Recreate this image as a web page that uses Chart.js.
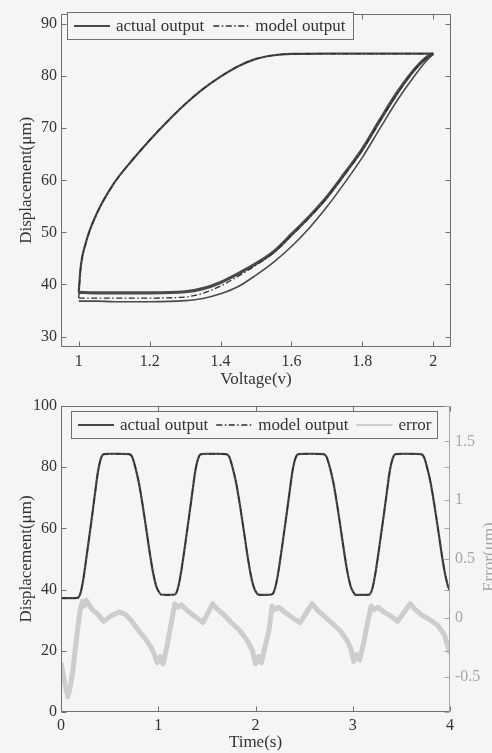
<!DOCTYPE html>
<html>
<head>
<meta charset="utf-8">
<title>Actual vs model output</title>
<script src="https://cdn.jsdelivr.net/npm/chart.js@4.4.1/dist/chart.umd.min.js"></script>
<style>
  html, body { margin: 0; padding: 0; background: #f5f5f5; overflow: hidden; width: 492px; height: 753px; }
  canvas { display: block; }
</style>
</head>
<body>
<canvas id="loop-chart" width="500" height="390"></canvas>
<canvas id="time-chart" width="500" height="363"></canvas>
<script>
'use strict';

// ── Data: hysteresis loop (top panel) ──────────────────────────────────────
// Ascending voltage branch (lower side of the loop)
const ASC_V      = [1.000, 1.050, 1.100, 1.200, 1.300, 1.350, 1.400, 1.450, 1.500, 1.550, 1.600, 1.650, 1.700, 1.750, 1.800, 1.850, 1.900, 1.950, 1.980, 2.000];
const ASC_ACTUAL = [38.5, 38.4, 38.4, 38.4, 38.6, 39.2, 40.4, 42.1, 44.0, 46.3, 49.6, 53.0, 56.8, 61.3, 66.0, 71.6, 77.0, 81.5, 83.5, 84.3];
const ASC_FIRST  = [36.8, 36.8, 36.7, 36.7, 36.9, 37.3, 38.2, 39.6, 41.8, 44.3, 47.3, 50.8, 54.9, 59.5, 64.4, 70.0, 75.5, 80.3, 82.9, 84.3];
const ASC_MODEL  = [37.4, 37.4, 37.4, 37.4, 37.6, 38.3, 39.7, 41.6, 43.7, 46.1, 49.4, 52.8, 56.6, 61.1, 65.8, 71.4, 76.8, 81.4, 83.4, 84.3];

// Descending voltage branch (upper side of the loop)
const DESC_V      = [1.000, 1.005, 1.020, 1.050, 1.100, 1.150, 1.200, 1.250, 1.300, 1.350, 1.400, 1.450, 1.500, 1.550, 1.600, 1.700, 1.800, 1.900, 2.000];
const DESC_ACTUAL = [38.5, 43.0, 48.0, 53.5, 59.5, 63.8, 67.7, 71.3, 74.6, 77.5, 79.9, 81.9, 83.3, 84.0, 84.25, 84.3, 84.3, 84.3, 84.3];
const DESC_MODEL  = [37.4, 42.8, 47.9, 53.4, 59.4, 63.8, 67.7, 71.3, 74.6, 77.5, 79.9, 81.9, 83.3, 84.0, 84.25, 84.3, 84.3, 84.3, 84.3];

const LOOP_X_TICKS = [1, 1.2, 1.4, 1.6, 1.8, 2];
const LOOP_Y_TICKS = [30, 40, 50, 60, 70, 80, 90];

// ── Data: time response (bottom panel) ─────────────────────────────────────
const TIME_S = [
  0.00, 0.03, 0.10, 0.17, 0.20, 0.23, 0.27, 0.31, 0.35, 0.38, 0.41, 0.44, 0.50, 0.60, 0.70, 0.73, 0.76, 0.80, 0.84, 0.88, 0.92, 0.95, 0.98,
  1.00, 1.03, 1.10, 1.17, 1.20, 1.23, 1.27, 1.31, 1.35, 1.38, 1.41, 1.44, 1.50, 1.60, 1.70, 1.73, 1.76, 1.80, 1.84, 1.88, 1.92, 1.95, 1.98,
  2.00, 2.03, 2.10, 2.17, 2.20, 2.23, 2.27, 2.31, 2.35, 2.38, 2.41, 2.44, 2.50, 2.60, 2.70, 2.73, 2.76, 2.80, 2.84, 2.88, 2.92, 2.95, 2.98,
  3.00, 3.03, 3.10, 3.17, 3.20, 3.23, 3.27, 3.31, 3.35, 3.38, 3.41, 3.44, 3.50, 3.60, 3.70, 3.73, 3.76, 3.80, 3.84, 3.88, 3.92, 3.95, 3.98,
  4.00
];
const ACTUAL_DISP = [
  37.2, 37.2, 37.2, 37.3, 38.8, 43.5, 52.5, 61.8, 71.5, 78.5, 82.8, 84.3, 84.4, 84.4, 84.3, 83.5, 80.5, 75.0, 67.5, 59.0, 50.5, 45.0, 41.0,
  39.6, 38.4, 38.3, 38.4, 40.2, 44.8, 53.2, 62.3, 71.7, 78.6, 82.8, 84.3, 84.4, 84.4, 84.3, 83.4, 80.4, 75.0, 67.6, 59.2, 50.6, 45.0, 41.0,
  39.5, 38.4, 38.3, 38.5, 40.3, 44.9, 53.3, 62.4, 71.8, 78.7, 82.9, 84.3, 84.4, 84.4, 84.3, 83.4, 80.5, 75.1, 67.6, 59.1, 50.5, 44.9, 40.9,
  39.5, 38.3, 38.3, 38.4, 40.2, 44.8, 53.2, 62.3, 71.7, 78.6, 82.8, 84.3, 84.4, 84.4, 84.3, 83.5, 80.5, 75.0, 67.5, 59.1, 50.5, 45.0, 41.0,
  39.6
];
const MODEL_DISP = [
  37.1, 37.1, 37.2, 37.3, 38.9, 43.6, 52.4, 61.7, 71.4, 78.4, 82.7, 84.2, 84.3, 84.3, 84.2, 83.4, 80.4, 75.1, 67.7, 59.2, 50.7, 45.2, 41.2,
  39.7, 38.3, 38.2, 38.3, 40.1, 44.7, 53.1, 62.2, 71.6, 78.5, 82.7, 84.2, 84.3, 84.3, 84.2, 83.3, 80.3, 75.1, 67.7, 59.3, 50.8, 45.2, 41.2,
  39.6, 38.3, 38.2, 38.4, 40.2, 44.8, 53.2, 62.3, 71.7, 78.6, 82.8, 84.2, 84.3, 84.3, 84.2, 83.3, 80.4, 75.2, 67.7, 59.2, 50.7, 45.1, 41.1,
  39.6, 38.2, 38.2, 38.3, 40.1, 44.7, 53.1, 62.2, 71.6, 78.5, 82.7, 84.2, 84.3, 84.3, 84.2, 83.4, 80.4, 75.1, 67.6, 59.2, 50.7, 45.2, 41.2,
  39.7
];

const ERR_T = [
  0.00, 0.03, 0.05, 0.07, 0.09, 0.12, 0.17, 0.20, 0.22, 0.24, 0.26, 0.29, 0.32, 0.38, 0.44, 0.52, 0.60, 0.66, 0.72, 0.80, 0.86, 0.92, 0.96,
  0.99, 1.02, 1.05, 1.09, 1.13, 1.17, 1.20, 1.24, 1.30, 1.38, 1.46, 1.51, 1.56, 1.60, 1.67, 1.75, 1.84, 1.92, 1.97,
  2.00, 2.03, 2.06, 2.10, 2.14, 2.17, 2.20, 2.24, 2.30, 2.38, 2.46, 2.52, 2.58, 2.63, 2.70, 2.78, 2.87, 2.94, 2.98,
  3.01, 3.04, 3.07, 3.11, 3.15, 3.19, 3.22, 3.26, 3.32, 3.40, 3.46, 3.53, 3.59, 3.63, 3.70, 3.78, 3.87, 3.94, 4.00
];
const ERR_UM = [
  -0.38, -0.52, -0.60, -0.67, -0.61, -0.46, -0.10, 0.08, 0.14, 0.10, 0.15, 0.11, 0.07, 0.03, -0.03, 0.02, 0.05, 0.03, -0.02, -0.11, -0.17, -0.24, -0.31,
  -0.38, -0.33, -0.39, -0.24, -0.06, 0.12, 0.09, 0.11, 0.06, 0.01, -0.04, 0.04, 0.12, 0.08, 0.03, -0.04, -0.11, -0.20, -0.28,
  -0.39, -0.33, -0.38, -0.24, -0.10, 0.10, 0.07, 0.09, 0.05, 0.00, -0.04, 0.04, 0.12, 0.07, 0.02, -0.04, -0.11, -0.19, -0.26,
  -0.37, -0.31, -0.36, -0.22, -0.05, 0.10, 0.07, 0.09, 0.05, 0.01, -0.03, 0.05, 0.12, 0.08, 0.03, -0.01, -0.06, -0.14, -0.30
];

const TIME_X_TICKS = [0, 1, 2, 3, 4];
const DISP_TICKS   = [0, 20, 40, 60, 80, 100];
const ERR_TICKS    = [-0.5, 0, 0.5, 1, 1.5];

// ── Styling ────────────────────────────────────────────────────────────────
const FONT_FAMILY = "'Liberation Serif', 'Times New Roman', serif";
const INK         = '#333333';
const AXIS_INK    = '#6f6f6f';
const LINE_DARK   = '#4a4a4a';
const LINE_MODEL  = '#2e2e2e';
const ERR_GREY    = '#cdcdcd';
const ERR_AXIS    = '#a6a6a6';
const BG          = '#f5f5f5';
const DASH_DOT    = [6, 2.5, 1.5, 2.5];

Chart.defaults.font.family = FONT_FAMILY;
Chart.defaults.color = INK;

function pairs(xs, ys) {
  return xs.map(function (x, i) { return { x: x, y: ys[i] }; });
}

function fixTicks(values) {
  return function (scale) {
    scale.ticks = values.map(function (v) { return { value: v }; });
  };
}

function plainNumber(v) {
  return String(Math.round(v * 100) / 100);
}

// ── Plugins ────────────────────────────────────────────────────────────────

/** Box axes with inward tick marks on all four sides (MATLAB look). */
const boxAxes = {
  id: 'boxAxes',
  afterDatasetsDraw(chart, _args, opts) {
    const ctx = chart.ctx;
    const a   = chart.chartArea;
    const len = opts.tickLength;
    const sx  = chart.scales.x;
    const sy  = chart.scales.y;
    const sy2 = chart.scales.y2;
    const rightInk = opts.rightColor || opts.color;
    const L = Math.round(a.left) + 0.5, R = Math.round(a.right) - 0.5;
    const T = Math.round(a.top) + 0.5,  B = Math.round(a.bottom) - 0.5;

    ctx.save();
    ctx.lineWidth = 1;
    ctx.strokeStyle = opts.color;
    ctx.beginPath();
    ctx.moveTo(R, T); ctx.lineTo(L, T); ctx.lineTo(L, B); ctx.lineTo(R, B);
    sx.ticks.forEach(function (t) {
      const px = Math.round(sx.getPixelForValue(t.value)) + 0.5;
      ctx.moveTo(px, B); ctx.lineTo(px, B - len);
      ctx.moveTo(px, T); ctx.lineTo(px, T + len);
    });
    sy.ticks.forEach(function (t) {
      const py = Math.round(sy.getPixelForValue(t.value)) + 0.5;
      ctx.moveTo(L, py); ctx.lineTo(L + len, py);
    });
    ctx.stroke();

    ctx.strokeStyle = rightInk;
    ctx.beginPath();
    ctx.moveTo(R, T); ctx.lineTo(R, B);
    sy.ticks.forEach(function (t) {
      const py = Math.round(sy.getPixelForValue(t.value)) + 0.5;
      ctx.moveTo(R, py); ctx.lineTo(R - len, py);
    });
    if (sy2) {
      sy2.ticks.forEach(function (t) {
        const py = Math.round(sy2.getPixelForValue(t.value)) + 0.5;
        ctx.moveTo(R, py); ctx.lineTo(R - len, py);
      });
    }
    ctx.stroke();
    ctx.restore();
  }
};

/** Framed legend drawn inside the plot, entries taken from flagged datasets. */
const boxLegend = {
  id: 'boxLegend',
  afterDraw(chart, _args, opts) {
    const ctx = chart.ctx;
    const items = chart.data.datasets
      .filter(function (d) { return d.legendRank !== undefined; })
      .sort(function (a, b) { return a.legendRank - b.legendRank; });

    ctx.save();
    ctx.font = opts.fontSize + 'px ' + FONT_FAMILY;
    let width = opts.padLeft;
    items.forEach(function (d, i) {
      width += opts.sample + opts.gapSample + ctx.measureText(d.label).width;
      width += (i < items.length - 1) ? opts.gapText : opts.padRight;
    });

    const x0 = Math.round(opts.left) + 0.5;
    const y0 = Math.round(opts.top) + 0.5;
    ctx.fillStyle = BG;
    ctx.fillRect(x0, y0, width, opts.height);
    ctx.strokeStyle = AXIS_INK;
    ctx.lineWidth = 1;
    ctx.strokeRect(x0, y0, Math.round(width), opts.height);

    const cy = y0 + opts.height / 2;
    let x = opts.left + opts.padLeft;
    items.forEach(function (d) {
      ctx.strokeStyle = d.borderColor;
      ctx.lineWidth = Math.min(d.borderWidth, 2);
      ctx.setLineDash(d.borderDash || []);
      ctx.beginPath();
      ctx.moveTo(x, cy); ctx.lineTo(x + opts.sample, cy);
      ctx.stroke();
      ctx.setLineDash([]);
      x += opts.sample + opts.gapSample;
      ctx.fillStyle = INK;
      ctx.textBaseline = 'middle';
      ctx.textAlign = 'left';
      ctx.fillText(d.label, x, cy + 1);
      x += ctx.measureText(d.label).width + opts.gapText;
    });
    ctx.restore();
  }
};

/** Rotated title for the right-hand axis (reads bottom to top). */
const sideTitle = {
  id: 'sideTitle',
  afterDraw(chart, _args, opts) {
    if (!opts.text) return;
    const ctx = chart.ctx;
    ctx.save();
    ctx.translate(opts.x, opts.y);
    ctx.rotate(-Math.PI / 2);
    ctx.font = opts.fontSize + 'px ' + FONT_FAMILY;
    ctx.fillStyle = opts.color;
    ctx.textAlign = 'center';
    ctx.textBaseline = 'middle';
    ctx.fillText(opts.text, 0, 0);
    ctx.restore();
  }
};

// ── Shared builders ────────────────────────────────────────────────────────

function lineSet(label, points, color, width, dash, legendRank) {
  return {
    label: label,
    data: points,
    showLine: true,
    borderColor: color,
    borderWidth: width,
    borderDash: dash || [],
    borderJoinStyle: 'round',
    pointRadius: 0,
    cubicInterpolationMode: 'monotone',
    legendRank: legendRank
  };
}

function tickFont() { return { size: 16, family: FONT_FAMILY }; }
function titleFont() { return { size: 17, family: FONT_FAMILY }; }

// ── Top: hysteresis loop ───────────────────────────────────────────────────

new Chart(document.getElementById('loop-chart'), {
  type: 'scatter',
  data: {
    datasets: [
      lineSet('model output', pairs(ASC_V, ASC_MODEL), LINE_MODEL, 1.3, DASH_DOT, 1),
      lineSet('model output', pairs(DESC_V, DESC_MODEL), LINE_MODEL, 1.3, DASH_DOT),
      lineSet('actual output', pairs(DESC_V, DESC_ACTUAL), LINE_DARK, 2.2, null, 0),
      lineSet('actual output', pairs(ASC_V, ASC_ACTUAL), LINE_DARK, 3.2),
      lineSet('actual output', pairs(ASC_V, ASC_FIRST), LINE_DARK, 1.6)
    ]
  },
  options: {
    responsive: false,
    animation: false,
    layout: { padding: { top: 7, right: 49, left: 0, bottom: 0 } },
    plugins: {
      legend: { display: false },
      tooltip: { enabled: false },
      boxAxes: { tickLength: 5, color: AXIS_INK },
      boxLegend: { left: 67, top: 12, height: 27, padLeft: 7, sample: 36, gapSample: 6, gapText: 9, padRight: 8, fontSize: 17 },
      sideTitle: { text: '' }
    },
    scales: {
      x: {
        type: 'linear', min: 0.95, max: 2.05,
        grid: { display: false, drawTicks: false },
        border: { display: false },
        afterBuildTicks: fixTicks(LOOP_X_TICKS),
        afterFit: function (s) { s.height = 43; },
        ticks: { font: tickFont(), color: INK, padding: 5, autoSkip: false, maxRotation: 0, callback: plainNumber },
        title: { display: true, text: 'Voltage(v)', font: titleFont(), color: INK, padding: { top: 0, bottom: 0 } }
      },
      y: {
        type: 'linear', min: 28, max: 92,
        grid: { display: false, drawTicks: false },
        border: { display: false },
        afterBuildTicks: fixTicks(LOOP_Y_TICKS),
        afterFit: function (s) { s.width = 61; },
        ticks: { font: tickFont(), color: INK, padding: 4, autoSkip: false, callback: plainNumber },
        title: { display: true, text: 'Displacement(μm)', font: titleFont(), color: INK, padding: { top: 16, bottom: 0 } }
      }
    }
  },
  plugins: [boxAxes, boxLegend, sideTitle]
});

// ── Bottom: displacement and error over time ───────────────────────────────

new Chart(document.getElementById('time-chart'), {
  type: 'scatter',
  data: {
    datasets: [
      Object.assign(lineSet('model output', pairs(TIME_S, MODEL_DISP), LINE_MODEL, 1.3, DASH_DOT, 1), { yAxisID: 'y' }),
      Object.assign(lineSet('actual output', pairs(TIME_S, ACTUAL_DISP), LINE_DARK, 2.2, null, 0), { yAxisID: 'y' }),
      Object.assign(lineSet('error', pairs(ERR_T, ERR_UM), ERR_GREY, 5, null, 2), { yAxisID: 'y2', cubicInterpolationMode: 'default', tension: 0 })
    ]
  },
  options: {
    responsive: false,
    animation: false,
    layout: { padding: { top: 16, right: 0, left: 0, bottom: 0 } },
    plugins: {
      legend: { display: false },
      tooltip: { enabled: false },
      boxAxes: { tickLength: 5, color: AXIS_INK, rightColor: ERR_AXIS },
      boxLegend: { left: 71, top: 21, height: 27, padLeft: 7, sample: 36, gapSample: 6, gapText: 8, padRight: 6, fontSize: 17 },
      sideTitle: { text: 'Error(μm)', x: 490, y: 167, fontSize: 17, color: ERR_AXIS }
    },
    scales: {
      x: {
        type: 'linear', min: 0, max: 4,
        grid: { display: false, drawTicks: false },
        border: { display: false },
        afterBuildTicks: fixTicks(TIME_X_TICKS),
        afterFit: function (s) { s.height = 41; },
        ticks: { font: tickFont(), color: INK, padding: 4, autoSkip: false, maxRotation: 0, callback: plainNumber },
        title: { display: true, text: 'Time(s)', font: titleFont(), color: INK, padding: { top: 0, bottom: 0 } }
      },
      y: {
        type: 'linear', position: 'left', min: 0, max: 100,
        grid: { display: false, drawTicks: false },
        border: { display: false },
        afterBuildTicks: fixTicks(DISP_TICKS),
        afterFit: function (s) { s.width = 61; },
        ticks: { font: tickFont(), color: INK, padding: 4, autoSkip: false, callback: plainNumber },
        title: { display: true, text: 'Displacement(μm)', font: titleFont(), color: INK, padding: { top: 16, bottom: 0 } }
      },
      y2: {
        type: 'linear', position: 'right', min: -0.8, max: 1.8,
        grid: { display: false, drawTicks: false },
        border: { display: false },
        afterBuildTicks: fixTicks(ERR_TICKS),
        afterFit: function (s) { s.width = 50; },
        ticks: { font: tickFont(), color: ERR_AXIS, padding: 5, autoSkip: false, callback: plainNumber }
      }
    }
  },
  plugins: [boxAxes, boxLegend, sideTitle]
});
</script>
</body>
</html>
